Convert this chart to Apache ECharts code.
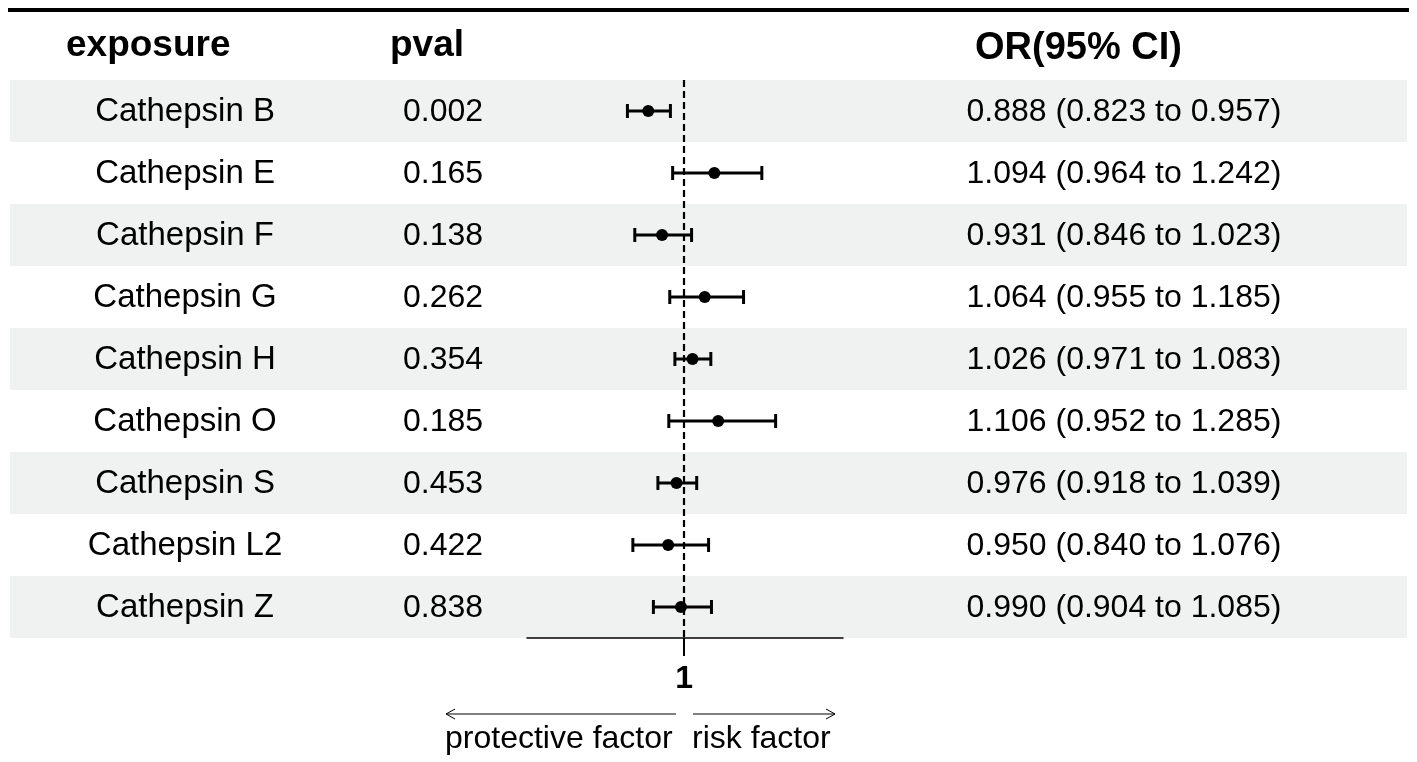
<!DOCTYPE html>
<html lang="en">
<head>
<meta charset="utf-8">
<title>Forest plot - Cathepsin</title>
<script src="https://cdn.jsdelivr.net/npm/echarts@6/dist/echarts.min.js"></script>
<style>
  html, body { margin: 0; padding: 0; background: #fff; }
  #chart { width: 1417px; height: 762px; }
</style>
</head>
<body>
<div id="chart"></div>
<script type="text/javascript">
// data
var exposures = ['Cathepsin B', 'Cathepsin E', 'Cathepsin F', 'Cathepsin G', 'Cathepsin H',
                 'Cathepsin O', 'Cathepsin S', 'Cathepsin L2', 'Cathepsin Z'];
var pvals = ['0.002', '0.165', '0.138', '0.262', '0.354', '0.185', '0.453', '0.422', '0.838'];
var orVals = [0.888, 1.094, 0.931, 1.064, 1.026, 1.106, 0.976, 0.950, 0.990];
var ciLow = [0.823, 0.964, 0.846, 0.955, 0.971, 0.952, 0.918, 0.840, 0.904];
var ciHigh = [0.957, 1.242, 1.023, 1.185, 1.083, 1.285, 1.039, 1.076, 1.085];
var refValue = 1;
var headers = ['exposure', 'pval', 'OR(95% CI)'];
var directionLabels = ['protective factor', 'risk factor'];

var FONT = '"Liberation Sans", Arial, Helvetica, sans-serif';

var chart = echarts.init(document.getElementById('chart'));

// OR (CI) text per row
var orText = orVals.map(function (v, i) {
  return v.toFixed(3) + ' (' + ciLow[i].toFixed(3) + ' to ' + ciHigh[i].toFixed(3) + ')';
});

var rowIdx = exposures.map(function (_, i) { return [0, i]; });

var option = {
  animation: false,
  grid: [
    { left: 10, right: 10, top: 80, bottom: 124 },   // table
    { left: 527, width: 316, top: 80, bottom: 124 }  // forest
  ],
  xAxis: [
    { gridIndex: 0, type: 'value', min: 0, max: 1, show: false },
    {
      gridIndex: 1, type: 'value', min: 0.51, max: 1.495,
      splitLine: { show: false },
      axisLine: { show: true, lineStyle: { color: '#000', width: 1.5 } },
      axisTick: { show: true, customValues: [refValue], length: 18, lineStyle: { color: '#000', width: 2 } },
      axisLabel: {
        customValues: [refValue], margin: 25, color: '#000',
        fontSize: 32, fontWeight: 'bold', fontFamily: FONT
      }
    }
  ],
  yAxis: [
    { gridIndex: 0, type: 'category', data: exposures, inverse: true, show: false },
    { gridIndex: 1, type: 'category', data: exposures, inverse: true, show: false }
  ],
  series: [
    // alternating row bands
    {
      type: 'custom', xAxisIndex: 0, yAxisIndex: 0, silent: true, z: 0,
      data: rowIdx,
      renderItem: function (params, api) {
        var i = api.value(1);
        if (i % 2 !== 0) return null;
        var c = api.coord([0, i]);
        var h = api.size([0, 1])[1];
        return {
          type: 'rect',
          shape: { x: params.coordSys.x, y: c[1] - h / 2, width: params.coordSys.width, height: h },
          style: { fill: '#f0f1f1' }
        };
      }
    },
    // table text
    {
      type: 'custom', xAxisIndex: 0, yAxisIndex: 0, silent: true, z: 2,
      data: rowIdx,
      renderItem: function (params, api) {
        var i = api.value(1);
        var pExp = api.coord([0.1253, i]);
        var pP = api.coord([0.3386, i]);
        var pOr = api.coord([0.7974, i]);
        var base = { fill: '#000', fontFamily: FONT, verticalAlign: 'middle' };
        return {
          type: 'group',
          children: [
            { type: 'text', x: pExp[0], y: pExp[1] + 1, style: Object.assign({ text: exposures[i], align: 'center', fontSize: 33 }, base) },
            { type: 'text', x: pP[0], y: pP[1] + 1, style: Object.assign({ text: pvals[i], align: 'right', fontSize: 32 }, base) },
            { type: 'text', x: pOr[0], y: pOr[1] + 1, style: Object.assign({ text: orText[i], align: 'center', fontSize: 32 }, base) }
          ]
        };
      }
    },
    // confidence intervals
    {
      type: 'custom', xAxisIndex: 1, yAxisIndex: 1, silent: true, z: 3,
      data: ciLow.map(function (lo, i) { return [lo, i, ciHigh[i]]; }),
      encode: { x: [0, 2], y: 1 },
      renderItem: function (params, api) {
        var a = api.coord([api.value(0), api.value(1)]);
        var b = api.coord([api.value(2), api.value(1)]);
        var cap = 7;
        var st = { stroke: '#000', lineWidth: 3 };
        return {
          type: 'group',
          children: [
            { type: 'line', shape: { x1: a[0], y1: a[1], x2: b[0], y2: b[1] }, style: st },
            { type: 'line', shape: { x1: a[0], y1: a[1] - cap, x2: a[0], y2: a[1] + cap }, style: st },
            { type: 'line', shape: { x1: b[0], y1: b[1] - cap, x2: b[0], y2: b[1] + cap }, style: st }
          ]
        };
      },
      markLine: {
        silent: true, symbol: 'none', label: { show: false },
        lineStyle: { color: '#000', width: 2.2, type: [7, 4], opacity: 1 },
        data: [{ xAxis: refValue }]
      }
    },
    // point estimates
    {
      type: 'scatter', xAxisIndex: 1, yAxisIndex: 1, silent: true, z: 4,
      symbol: 'circle', symbolSize: 12,
      itemStyle: { color: '#000', opacity: 1 },
      data: orVals.map(function (v, i) { return [v, i]; })
    }
  ],
  graphic: [
    // top rule
    { type: 'line', shape: { x1: 8, y1: 10, x2: 1409, y2: 10 }, style: { stroke: '#000', lineWidth: 4 } },
    // headers
    { type: 'text', x: 66, y: 46, style: { text: headers[0], fill: '#000', font: 'bold 37px ' + FONT, verticalAlign: 'middle' } },
    { type: 'text', x: 390, y: 46, style: { text: headers[1], fill: '#000', font: 'bold 37px ' + FONT, verticalAlign: 'middle' } },
    { type: 'text', x: 975, y: 49, style: { text: headers[2], fill: '#000', font: 'bold 38px ' + FONT, verticalAlign: 'middle' } },
    // direction arrows
    { type: 'line', shape: { x1: 446, y1: 714, x2: 676, y2: 714 }, style: { stroke: '#000', lineWidth: 1 } },
    { type: 'polyline', shape: { points: [[455, 709], [446, 714], [455, 719]] }, style: { stroke: '#000', lineWidth: 1, fill: null } },
    { type: 'line', shape: { x1: 693, y1: 714, x2: 835, y2: 714 }, style: { stroke: '#000', lineWidth: 1 } },
    { type: 'polyline', shape: { points: [[826, 709], [835, 714], [826, 719]] }, style: { stroke: '#000', lineWidth: 1, fill: null } },
    { type: 'text', x: 445, y: 739, style: { text: directionLabels[0], fill: '#000', font: '32px ' + FONT, verticalAlign: 'middle' } },
    { type: 'text', x: 692, y: 739, style: { text: directionLabels[1], fill: '#000', font: '32px ' + FONT, verticalAlign: 'middle' } }
  ]
};

chart.setOption(option);
</script>
</body>
</html>
